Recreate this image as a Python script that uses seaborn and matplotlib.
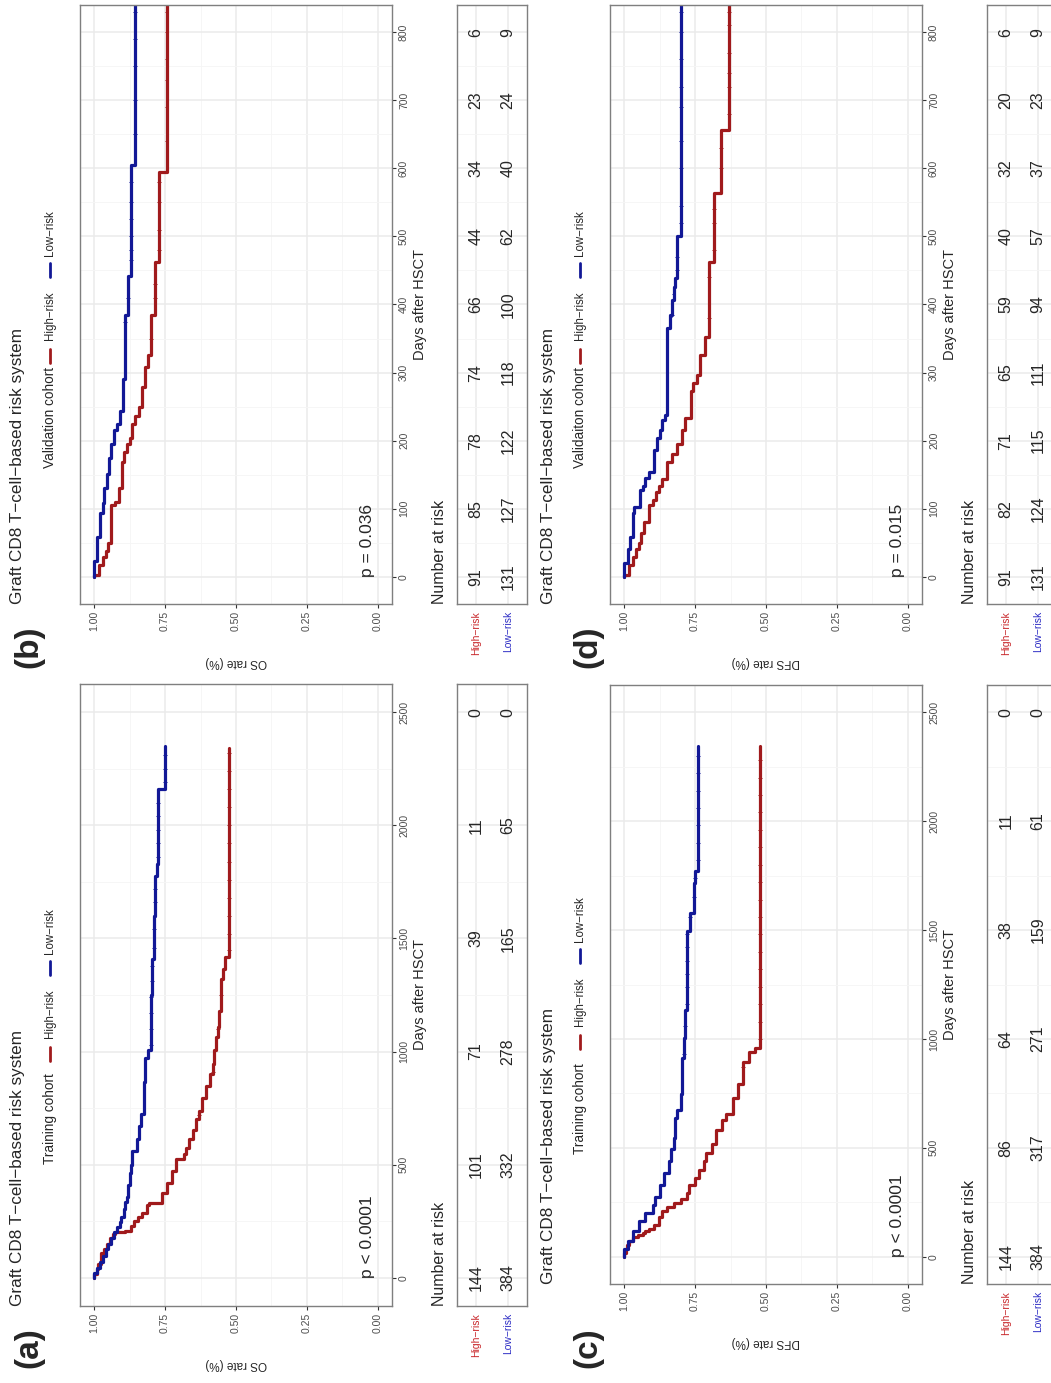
import numpy as np
import pandas as pd
import matplotlib
matplotlib.use("Agg")
import matplotlib.pyplot as plt
from matplotlib.lines import Line2D
from matplotlib.ticker import MultipleLocator, FixedLocator
import seaborn as sns

# ---------------- data ----------------
# (a) training cohort, overall survival
a_high_days = [0, 15, 40, 60, 110, 125, 150, 175, 195, 200, 205, 230, 250, 270, 285, 320, 330, 375, 420,
               470, 525, 545, 575, 612, 655, 700, 735, 795, 848, 900, 944, 1005, 1066, 1110, 1180, 1320,
               1363, 1416, 2342]
a_high_surv = [1.0, 0.99, 0.985, 0.975, 0.965, 0.955, 0.945, 0.935, 0.925, 0.89, 0.87, 0.86, 0.845, 0.83,
               0.815, 0.805, 0.76, 0.745, 0.725, 0.71, 0.685, 0.675, 0.665, 0.65, 0.64, 0.63, 0.62, 0.605,
               0.59, 0.582, 0.576, 0.57, 0.565, 0.56, 0.553, 0.547, 0.54, 0.525, 0.525]
a_low_days = [0, 20, 44, 70, 96, 125, 149, 175, 200, 225, 245, 270, 306, 335, 358, 410, 463, 498, 560, 612,
              673, 725, 865, 970, 1005, 1250, 1407, 1600, 1775, 1827, 2160, 2350]
a_low_surv = [1.0, 0.99, 0.98, 0.97, 0.96, 0.95, 0.94, 0.93, 0.92, 0.91, 0.905, 0.895, 0.89, 0.885, 0.88,
              0.875, 0.87, 0.865, 0.85, 0.843, 0.835, 0.825, 0.82, 0.81, 0.80, 0.795, 0.79, 0.787, 0.78,
              0.775, 0.75, 0.75]
a_high_cens = [720, 910, 1100, 1250, 1450, 1520, 1600, 1680, 1760, 1840, 1920, 2000, 2080, 2160, 2240, 2320]
a_low_cens = [1030, 1100, 1170, 1240, 1310, 1380, 1460, 1540, 1660, 1720, 1860, 1920, 1980, 2040, 2100,
              2190, 2250, 2310]

# (b) validation cohort, overall survival
b_high_days = [0, 2, 17, 29, 38, 49, 105, 110, 131, 169, 183, 195, 204, 224, 236, 250, 279, 308, 326, 384,
               462, 595, 860]
b_high_surv = [1.0, 0.983, 0.97, 0.96, 0.953, 0.94, 0.925, 0.913, 0.903, 0.895, 0.884, 0.875, 0.866, 0.855,
               0.843, 0.83, 0.82, 0.81, 0.80, 0.787, 0.77, 0.745, 0.745]
b_low_days = [0, 23, 58, 93, 108, 131, 151, 175, 195, 215, 224, 244, 291, 384, 442, 605, 860]
b_low_surv = [1.0, 0.99, 0.98, 0.97, 0.965, 0.956, 0.948, 0.942, 0.93, 0.92, 0.91, 0.90, 0.89, 0.88, 0.87,
              0.855, 0.855]
b_high_cens = [350, 410, 430, 480, 510, 550, 580, 640, 690, 730, 760, 800, 830]
b_low_cens = [375, 410, 465, 480, 500, 525, 550, 580, 650, 700, 750, 790, 830]

# (c) training cohort, disease-free survival
c_high_days = [0, 18, 36, 55, 73, 91, 100, 110, 120, 128, 146, 182, 210, 228, 246, 265, 292, 328, 360, 400,
               438, 475, 520, 584, 630, 657, 730, 794, 894, 940, 958, 2345]
c_high_surv = [1.0, 0.995, 0.99, 0.983, 0.97, 0.95, 0.935, 0.925, 0.913, 0.895, 0.878, 0.866, 0.85, 0.826,
               0.80, 0.78, 0.77, 0.75, 0.735, 0.72, 0.71, 0.69, 0.675, 0.655, 0.64, 0.615, 0.60, 0.58, 0.56,
               0.54, 0.522, 0.522]
c_low_days = [0, 36, 73, 120, 164, 200, 237, 274, 328, 383, 438, 493, 547, 638, 675, 748, 912, 1003, 1131,
              1496, 1578, 1715, 1770, 2345]
c_low_surv = [1.0, 0.988, 0.97, 0.948, 0.925, 0.90, 0.89, 0.875, 0.86, 0.843, 0.835, 0.826, 0.82, 0.814,
              0.80, 0.797, 0.79, 0.785, 0.777, 0.767, 0.755, 0.75, 0.74, 0.74]
c_high_cens = [870, 1000, 1080, 1160, 1240, 1320, 1400, 1480, 1560, 1640, 1720, 1800, 1880, 1960, 2040,
               2120, 2200, 2280]
c_low_cens = [930, 1060, 1160, 1240, 1300, 1360, 1420, 1480, 1560, 1650, 1740, 1820, 1900, 1980, 2060,
              2140, 2220, 2300]

# (d) validation cohort, disease-free survival
d_high_days = [0, 2, 17, 29, 41, 49, 64, 81, 105, 113, 125, 134, 143, 169, 180, 195, 215, 233, 273, 285,
               297, 326, 352, 462, 564, 657, 860]
d_high_surv = [1.0, 0.983, 0.97, 0.96, 0.948, 0.94, 0.93, 0.913, 0.90, 0.887, 0.878, 0.866, 0.85, 0.83,
               0.815, 0.797, 0.785, 0.765, 0.756, 0.745, 0.733, 0.715, 0.70, 0.683, 0.66, 0.632, 0.632]
d_low_days = [0, 20, 41, 58, 93, 102, 128, 134, 145, 154, 186, 204, 215, 230, 238, 366, 384, 407, 425, 439,
              500, 860]
d_low_surv = [1.0, 0.988, 0.98, 0.97, 0.965, 0.945, 0.933, 0.925, 0.912, 0.895, 0.885, 0.875, 0.866, 0.855,
              0.85, 0.84, 0.83, 0.826, 0.82, 0.814, 0.80, 0.80]
d_high_cens = [380, 440, 480, 520, 540, 600, 630, 680, 720, 740, 770, 810, 830]
d_low_cens = [385, 415, 450, 470, 520, 545, 600, 640, 690, 720, 760, 800, 830]

# numbers at risk
long_breaks = [0, 500, 1000, 1500, 2000, 2500]
short_breaks = [0, 100, 200, 300, 400, 500, 600, 700, 800]
a_risk_high = [144, 101, 71, 39, 11, 0]
a_risk_low = [384, 332, 278, 165, 65, 0]
b_risk_high = [91, 85, 78, 74, 66, 44, 34, 23, 6]
b_risk_low = [131, 127, 122, 118, 100, 62, 40, 24, 9]
c_risk_high = [144, 86, 64, 38, 11, 0]
c_risk_low = [384, 317, 271, 159, 61, 0]
d_risk_high = [91, 82, 71, 65, 59, 40, 32, 20, 6]
d_risk_low = [131, 124, 115, 111, 94, 57, 37, 23, 9]

groups = ["High\u2212risk", "Low\u2212risk"]
surv_ticks = [0, 0.25, 0.5, 0.75, 1.0]
surv_labels = ["0.00", "0.25", "0.50", "0.75", "1.00"]

# ---------------- style ----------------
sns.set_theme(style="white")
plt.rcParams["font.family"] = ["Liberation Sans", "DejaVu Sans"]

W, H = 1051, 1383
RED = "#A01A1C"
BLUE = "#121896"
RED_LAB = "#C8262A"
BLUE_LAB = "#2B2BC4"
GRID = "#EBEBEB"
GRID_MINOR = "#F5F5F5"
EDGE = "#7F7F7F"
TICKTXT = "#4D4D4D"


def fbox(x0, y0, x1, y1):
    return [x0 / W, 1 - y1 / H, (x1 - x0) / W, (y1 - y0) / H]


def fx(x):
    return x / W


def fy(y):
    return 1 - y / H


def km_at(days, surv, t):
    # value of the step curve at the censoring times
    idx = np.searchsorted(days, t, side="right") - 1
    return np.asarray(surv)[idx]


fig = plt.figure(figsize=(W / 100, H / 100), dpi=100)

# leg = bottom end of cohort text, red key centre, bottom end of High-risk,
#       blue key centre, bottom end of Low-risk (pixel rows of the final image)
panels = [
    dict(tag="(a)", tag_xy=(29, 1348), x0=80, top=684, bottom=1306, tab_x0=457,
         days=(a_high_days, a_low_days), surv=(a_high_surv, a_low_surv),
         cens=(a_high_cens, a_low_cens),
         breaks=long_breaks, risk=(a_risk_high, a_risk_low), cohort="Training cohort",
         ylab="OS rate (%)", pval="p < 0.0001", lo=-125, hi=2625, minor=250,
         leg=(1164, 1054, 1038, 968, 954)),
    dict(tag="(b)", tag_xy=(29, 647), x0=80, top=5, bottom=604, tab_x0=457,
         days=(b_high_days, b_low_days), surv=(b_high_surv, b_low_surv),
         cens=(b_high_cens, b_low_cens),
         breaks=short_breaks, risk=(b_risk_high, b_risk_low), cohort="Validation cohort",
         ylab="OS rate (%)", pval="p = 0.036", lo=-40, hi=840, minor=50,
         leg=(468, 356, 340, 270, 256)),
    dict(tag="(c)", tag_xy=(588, 1348), x0=610, top=685, bottom=1284, tab_x0=987,
         days=(c_high_days, c_low_days), surv=(c_high_surv, c_low_surv),
         cens=(c_high_cens, c_low_cens),
         breaks=long_breaks, risk=(c_risk_high, c_risk_low), cohort="Training cohort",
         ylab="DFS rate (%)", pval="p < 0.0001", lo=-125, hi=2625, minor=250,
         leg=(1154, 1042, 1026, 956, 942)),
    dict(tag="(d)", tag_xy=(588, 647), x0=610, top=5, bottom=604, tab_x0=987,
         days=(d_high_days, d_low_days), surv=(d_high_surv, d_low_surv),
         cens=(d_high_cens, d_low_cens),
         breaks=short_breaks, risk=(d_risk_high, d_risk_low), cohort="Validaiton cohort",
         ylab="DFS rate (%)", pval="p = 0.015", lo=-40, hi=840, minor=50,
         leg=(468, 356, 340, 270, 256)),
]


def style_box(ax):
    for s in ax.spines.values():
        s.set_visible(True)
        s.set_color(EDGE)
        s.set_linewidth(1.0)
    ax.grid(which="major", color=GRID, lw=1.1)
    ax.grid(which="minor", color=GRID_MINOR, lw=0.6)
    ax.set_axisbelow(True)


for p in panels:
    x0, top, bottom = p["x0"], p["top"], p["bottom"]
    ax = fig.add_axes(fbox(x0, top, x0 + 312, bottom))

    frames, cframes = [], []
    for g, d, s, c in zip(groups, p["days"], p["surv"], p["cens"]):
        frames.append(pd.DataFrame({"day": d, "surv": s, "group": g}))
        cframes.append(pd.DataFrame({"day": c, "surv": km_at(d, s, c), "group": g}))
    df = pd.concat(frames, ignore_index=True)
    cdf = pd.concat(cframes, ignore_index=True)
    sns.lineplot(data=df, x="surv", y="day", hue="group", palette=[RED, BLUE],
                 estimator=None, sort=False, drawstyle="steps-pre", linewidth=2.3,
                 legend=False, ax=ax)
    sns.scatterplot(data=cdf, x="surv", y="day", hue="group", palette=[RED, BLUE],
                    marker="+", s=8, linewidth=0.7, legend=False, ax=ax)

    ax.set_xlim(1.05, -0.05)
    ax.set_ylim(p["lo"], p["hi"])
    ax.xaxis.set_major_locator(FixedLocator(surv_ticks))
    ax.set_xticklabels(surv_labels)
    ax.xaxis.set_minor_locator(MultipleLocator(0.125))
    ax.yaxis.set_major_locator(FixedLocator(p["breaks"]))
    ax.yaxis.set_minor_locator(MultipleLocator(p["minor"]))
    ax.yaxis.tick_right()
    ax.yaxis.set_label_position("right")
    ax.tick_params(which="major", length=3, width=0.8, color="#333333", bottom=True, right=True,
                   labelsize=7.5, labelcolor=TICKTXT, pad=2)
    ax.tick_params(which="minor", length=0)
    for lab in ax.get_xticklabels():
        lab.set_rotation(90)
    for lab in ax.get_yticklabels():
        lab.set_rotation(90)
        lab.set_va("center")
    ax.set_ylabel("Days after HSCT", fontsize=10.5, labelpad=3)
    ax.set_xlabel(p["ylab"], fontsize=8.5, rotation=180, labelpad=18)
    style_box(ax)
    ax.text(0.035, 0, p["pval"], rotation=90, ha="center", va="bottom", fontsize=12.5)

    # number-at-risk table
    tx = p["tab_x0"]
    tab = fig.add_axes(fbox(tx, top, tx + 70, bottom))
    tab.set_xlim(0.4, 2.6)
    tab.set_ylim(p["lo"], p["hi"])
    tab.xaxis.set_major_locator(FixedLocator([1, 2]))
    tab.set_xticklabels(groups)
    tab.yaxis.set_major_locator(FixedLocator(p["breaks"]))
    tab.yaxis.set_minor_locator(MultipleLocator(p["minor"]))
    tab.set_yticklabels([])
    tab.tick_params(axis="x", length=3, width=0.8, color="#333333", labelsize=7.5, pad=2)
    tab.tick_params(axis="y", which="both", length=0)
    for lab, c in zip(tab.get_xticklabels(), [RED_LAB, BLUE_LAB]):
        lab.set_rotation(90)
        lab.set_color(c)
    tab.set_xlabel("")
    tab.set_ylabel("")
    style_box(tab)
    for row, vals in enumerate(p["risk"], start=1):
        for d, v in zip(p["breaks"], vals):
            tab.text(row, d, str(v), rotation=90, ha="center", va="center", fontsize=11.5)

    # titles and legend
    off = x0 - 80
    fig.text(fx(18 + off), fy(bottom), "Graft CD8 T\u2212cell\u2212based risk system", rotation=90,
             ha="center", va="bottom", fontsize=12.3)
    fig.text(fx(tx - 17), fy(bottom), "Number at risk", rotation=90, ha="center", va="bottom",
             fontsize=11.5)
    l_title, l_red, l_high, l_blue, l_low = p["leg"]
    lx = fx(50 + off)
    fig.text(lx, fy(l_title), p["cohort"], rotation=90, ha="center", va="bottom", fontsize=9.8)
    fig.add_artist(Line2D([lx, lx], [fy(l_red + 7), fy(l_red - 7)], transform=fig.transFigure,
                          color=RED, lw=2))
    fig.text(lx, fy(l_high), groups[0], rotation=90, ha="center", va="bottom", fontsize=8.3)
    fig.add_artist(Line2D([lx, lx], [fy(l_blue + 7), fy(l_blue - 7)], transform=fig.transFigure,
                          color=BLUE, lw=2))
    fig.text(lx, fy(l_low), groups[1], rotation=90, ha="center", va="bottom", fontsize=8.3)

    tx_, ty_ = p["tag_xy"]
    fig.text(fx(tx_), fy(ty_), p["tag"], rotation=90, ha="center", va="center", fontsize=24,
             fontweight="bold")

fig.savefig("out.png", dpi=100)
